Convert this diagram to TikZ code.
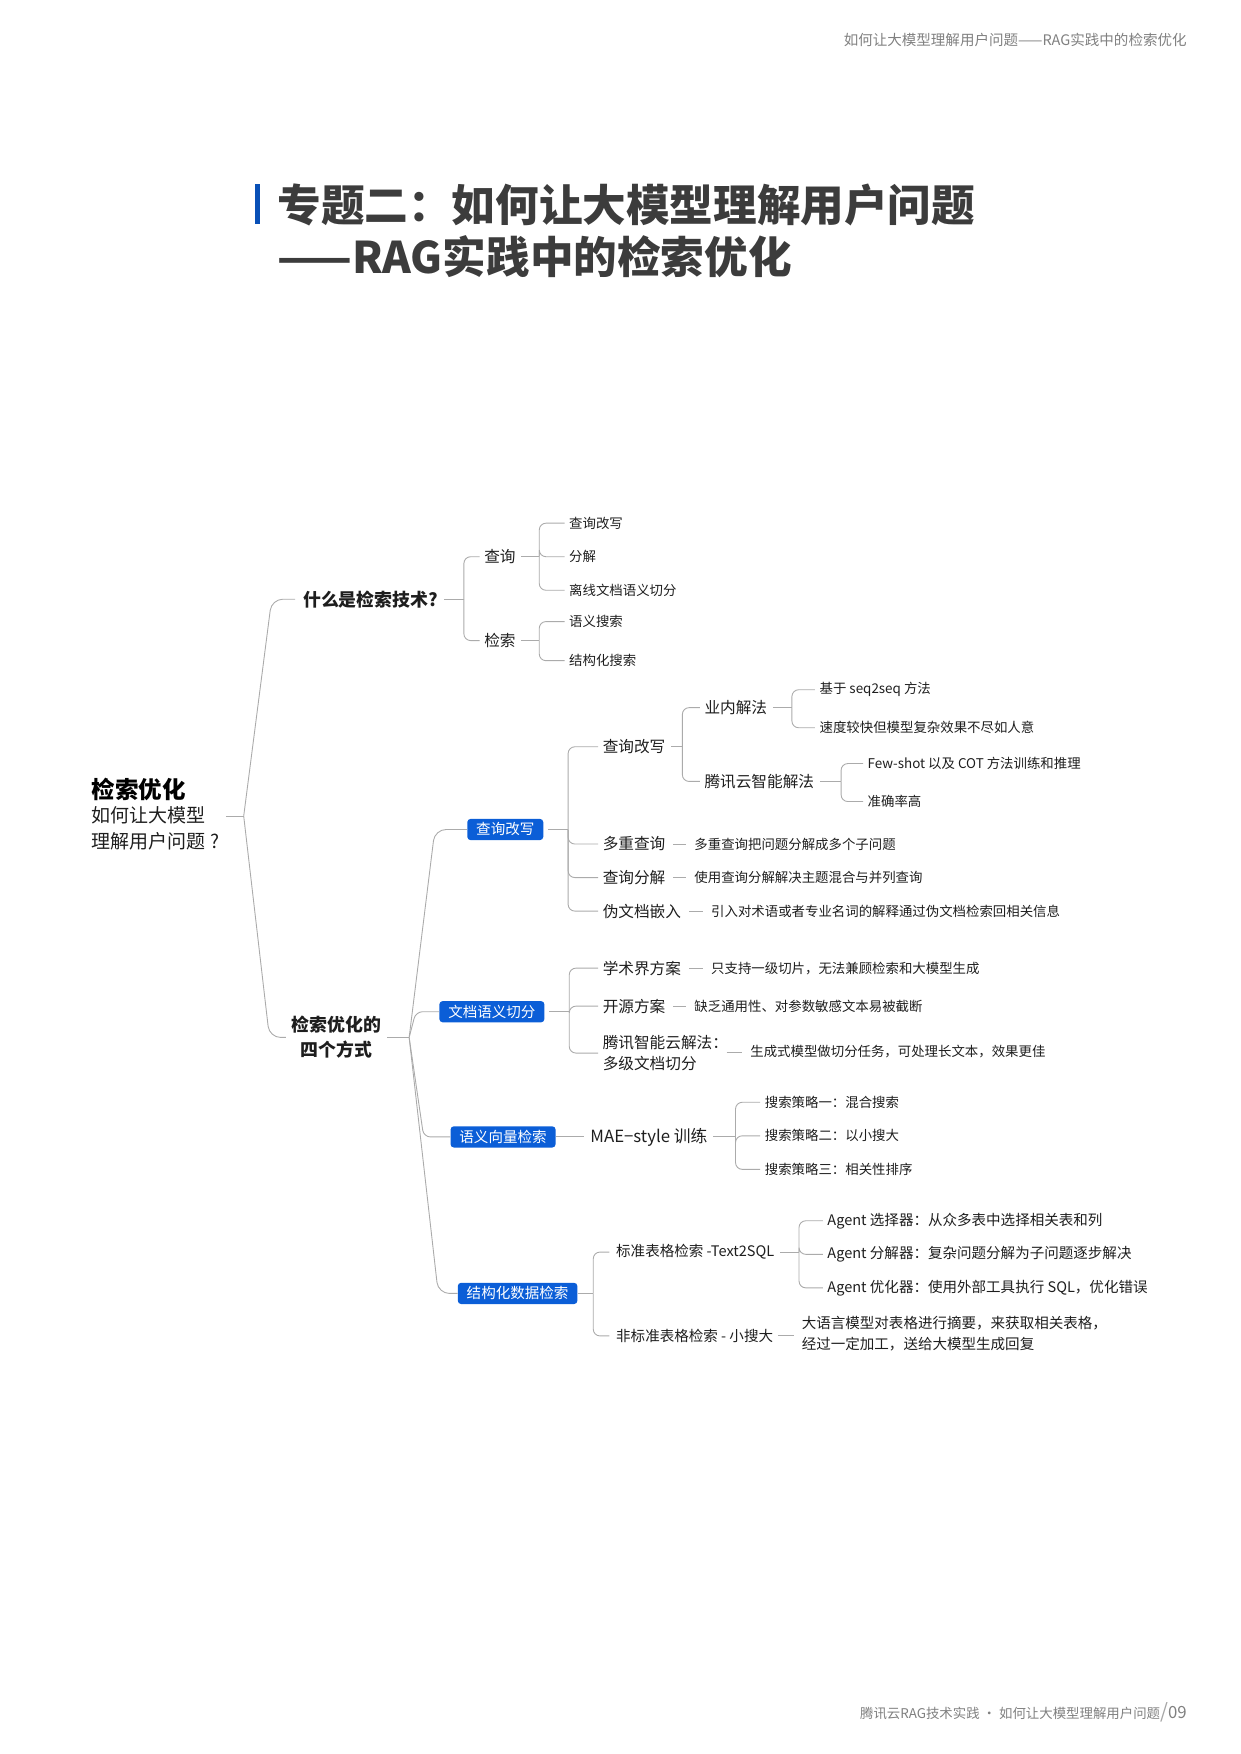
\documentclass[tikz,border=0pt]{standalone}
\usepackage{fontspec}
\setmainfont{Noto Sans CJK SC}
\definecolor{bl}{HTML}{0B5ED7}
\definecolor{tx}{HTML}{1E1E1E}
\definecolor{ln}{HTML}{ABABAB}
\definecolor{tt}{HTML}{3C3C3C}
\newcommand\fs[1]{\fontsize{#1}{\fpeval{#1*1.4}}\selectfont}
\newcommand\brk[3]{\draw[con] ([xshift=4pt]#1.east) -- ++(#2,0) coordinate (tmpb);
  \foreach \c in {#3}{\draw[con] (tmpb) |- ([xshift=-3pt]\c.west);}}
\newcommand\dash[2]{\draw[con] ([xshift=6pt]#1.east) -- ([xshift=-6pt]#2.west);}
\begin{document}
\begin{tikzpicture}[x=1pt,y=-1pt,
  con/.style={draw=ln,line width=0.8pt,rounded corners=6pt},
  t/.style={anchor=west,inner sep=1pt,text=tx},
  s/.style={t,font=\fs{12}},
  m/.style={t,font=\fs{14}},
  box/.style={fill=bl,rounded corners=3pt,text=white,font=\fs{13},minimum height=19pt,inner xsep=8pt,inner ysep=1pt}]
\useasboundingbox (0,0) rectangle (1110,1569);
\node[anchor=east,text=gray,font=\fs{13}] (hd) at (1065,36) {如何让大模型理解用户问题——RAG实践中的检索优化};
\fill[bl!85!black] (228,165) rectangle (233,200);
\node[anchor=west,text=tt,font=\fs{39}\bfseries,inner sep=0] (t1) at (248,183) {专题二：如何让大模型理解用户问题};
\node[anchor=west,text=tt,font=\fs{39}\bfseries,inner sep=0] (t2) at (248,230) {——RAG实践中的检索优化};
\node[anchor=east,text=gray,font=\fs{12}] (ft) at (1065,1532) {腾讯云RAG技术实践 · 如何让大模型理解用户问题\textcolor{gray!70}{\fs{18}/}\fs{15}09};
% root
\node[anchor=west,inner sep=0,text=black,font=\fs{21}\bfseries] (r0) at (82,706) {检索优化};
\node[anchor=north west,inner sep=0,text=tx,font=\fs{17},align=left] (root) at (82,721) {如何让大模型\\理解用户问题 ?};
\coordinate (rt) at (218,730);
\draw[con] (202,730) -- (rt);
\node[t,font=\fs{16}\bfseries] (a1) at (270,536) {什么是检索技术?};
\node[t,font=\fs{16}\bfseries,align=center,anchor=center] (a2) at (301,928) {检索优化的\\四个方式};
\draw[con,rounded corners=10pt] (rt) -- (243,536) -- ([xshift=-6pt]a1.west);
\draw[con,rounded corners=10pt] (rt) -- (241,928) -- ([xshift=-4pt]a2.west);
% what is
\node[m] (q) at (432,498) {查询};
\node[m] (k) at (432,573) {检索};
\brk{a1}{18}{q,k}
\node[s] (q1) at (508,468) {查询改写};
\node[s] (q2) at (508,498) {分解};
\node[s] (q3) at (508,528) {离线文档语义切分};
\brk{q}{16}{q1,q2,q3}
\node[s] (k1) at (508,556) {语义搜索};
\node[s] (k2) at (508,591) {结构化搜索};
\brk{k}{16}{k1,k2}
% four ways
\node[box] (b1) at (452,742) {查询改写};
\node[box] (b2) at (440,905) {文档语义切分};
\node[box] (b3) at (450,1017) {语义向量检索};
\node[box] (b4) at (463,1157) {结构化数据检索};
\coordinate (ft0) at (366,928);
\draw[con] ([xshift=4pt]a2.east) -- (ft0);
\draw[con,rounded corners=10pt] (ft0) -- (389,742) -- (b1.west);
\draw[con,rounded corners=6pt] (ft0) -- (372,905) -- (b2.west);
\draw[con,rounded corners=6pt] (ft0) -- (379,1017) -- (b3.west);
\draw[con,rounded corners=10pt] (ft0) -- (392,1157) -- (b4.west);
% b1
\node[m] (c1) at (538,668) {查询改写};
\node[m] (c2) at (538,755) {多重查询};
\node[m] (c3) at (538,785) {查询分解};
\node[m] (c4) at (538,815) {伪文档嵌入};
\brk{b1}{18}{c1,c2,c3,c4}
\node[m] (d1) at (629,633) {业内解法};
\node[m] (d2) at (629,699) {腾讯云智能解法};
\brk{c1}{10}{d1,d2}
\node[s] (e1) at (732,617) {基于 seq2seq 方法};
\node[s] (e2) at (732,651) {速度较快但模型复杂效果不尽如人意};
\brk{d1}{17}{e1,e2}
\node[s] (f1) at (775,683) {Few-shot 以及 COT 方法训练和推理};
\node[s] (f2) at (775,717) {准确率高};
\brk{d2}{19}{f1,f2}
\node[s] (c2t) at (620,755) {多重查询把问题分解成多个子问题};
\node[s] (c3t) at (620,785) {使用查询分解解决主题混合与并列查询};
\node[s] (c4t) at (635,815) {引入对术语或者专业名词的解释通过伪文档检索回相关信息};
\dash{c2}{c2t}\dash{c3}{c3t}\dash{c4}{c4t}
% b2
\node[m] (g1) at (538,866) {学术界方案};
\node[m] (g2) at (538,900) {开源方案};
\node[m,align=left] (g3) at (538,942) {腾讯智能云解法：\\多级文档切分};
\brk{b2}{18}{g1,g2,g3}
\node[s] (g1t) at (635,866) {只支持一级切片，无法兼顾检索和大模型生成};
\node[s] (g2t) at (620,900) {缺乏通用性、对参数敏感文本易被截断};
\node[s] (g3t) at (670,941) {生成式模型做切分任务，可处理长文本，效果更佳};
\dash{g1}{g1t}\dash{g2}{g2t}
\draw[con] ([xshift=-20pt]g3t.west) -- ([xshift=-6pt]g3t.west);
% b3
\node[t,font=\fs{15}] (h) at (527,1017) {MAE−style 训练};
\draw[con] (b3.east) -- ([xshift=-5pt]h.west);
\node[s] (h1) at (683,986) {搜索策略一：混合搜索};
\node[s] (h2) at (683,1016) {搜索策略二：以小搜大};
\node[s] (h3) at (683,1046) {搜索策略三：相关性排序};
\brk{h}{20}{h1,h2,h3}
% b4
\node[t,font=\fs{13}] (i1) at (550,1120) {标准表格检索 -Text2SQL};
\node[t,font=\fs{13}] (i2) at (550,1195) {非标准表格检索 - 小搜大};
\draw[con] (b4.east) -- ++(14,0) coordinate (bb);
\draw[con] (bb) |- ([xshift=-5pt]i1.west);
\draw[con] (bb) |- ([xshift=-5pt]i2.west);
\node[t,font=\fs{13}] (j1) at (739,1092) {Agent 选择器：从众多表中选择相关表和列};
\node[t,font=\fs{13}] (j2) at (739,1122) {Agent 分解器：复杂问题分解为子问题逐步解决};
\node[t,font=\fs{13}] (j3) at (739,1152) {Agent 优化器：使用外部工具执行 SQL，优化错误};
\brk{i1}{17}{j1,j2,j3}
\node[t,font=\fs{13},align=left] (i2t) at (716,1193) {大语言模型对表格进行摘要，来获取相关表格，\\经过一定加工，送给大模型生成回复};
\draw[con] ([xshift=-20pt]i2t.west |- i2) -- ([xshift=-6pt]i2t.west |- i2);
\end{tikzpicture}
\end{document}
